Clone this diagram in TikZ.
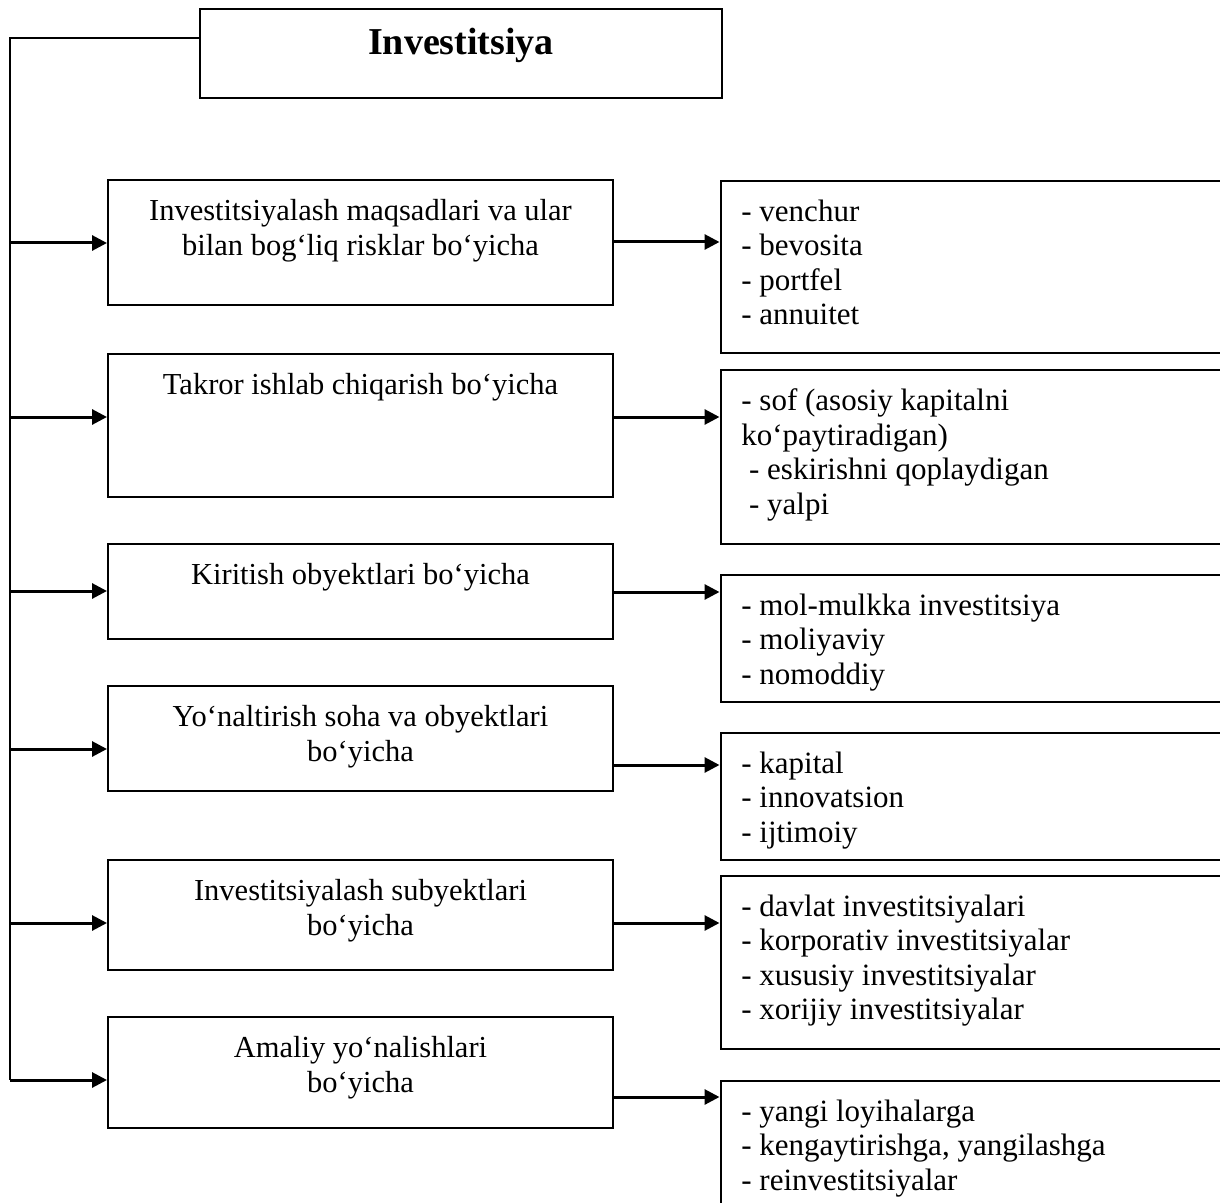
\documentclass[tikz,border=0pt]{standalone}
\usepackage{fontspec}
\setmainfont{Liberation Serif}
\usetikzlibrary{arrows.meta,positioning}

\begin{document}
\begin{tikzpicture}[x=0.5pt, y=-0.5pt,
  head/.style={draw, line width=1pt, minimum width=261pt, inner sep=0pt,
               font=\fontsize{19pt}{22pt}\selectfont\bfseries,
               text height=23pt, text depth=21.5pt},
  kind/.style={draw, line width=1pt, minimum width=252.5pt, inner sep=0pt},
  list/.style={draw, line width=1pt, minimum width=260pt, inner sep=0pt},
  ktext/.style={align=center, inner sep=0pt, font=\fontsize{15.25pt}{17.5pt}\selectfont},
  ltext/.style={align=left, inner sep=0pt, font=\fontsize{15.5pt}{17.25pt}\selectfont},
  arrow/.style={-{Triangle[length=7.5pt,width=7.5pt]}, line width=1.5pt}]
\useasboundingbox (0,0) rectangle (1220,1203);
\def\row#1#2#3#4#5#6#7#8#9{%
  \node[kind, minimum height={(#3-#2)*0.5pt}] (k#1) at (360.5,{(#2+#3)/2}) {};
  \node[ktext, below=9.75pt of k#1.north] (kt#1) {#8};
  \node[list, minimum height={(#6-#5)*0.5pt}] (l#1) at (980.5,{(#5+#6)/2}) {};
  \node[ltext, below right=9.75pt and 10.75pt of l#1.north west] (lt#1) {#9};
  \coordinate (b#1) at (10,#4);
  \coordinate (m#1) at (0,#7);
  \draw[arrow] (b#1) -- (b#1 -| k#1.west);
  \draw[arrow] (m#1 -| k#1.east) -- (m#1 -| l#1.west);}
\node[head] (top) at (461,53.5) {Investitsiya};
\row{1}{180}{305}{243}{181}{353}{242}{Investitsiyalash maqsadlari va ular\\bilan bog‘liq risklar bo‘yicha}{- venchur\\- bevosita\\- portfel\\- annuitet}
\row{2}{354}{497}{417}{370}{544}{417}{Takror ishlab chiqarish bo‘yicha}{- sof (asosiy kapitalni\\ko‘paytiradigan)\\\hspace*{.25em}- eskirishni qoplaydigan\\\hspace*{.25em}- yalpi}
\row{3}{544}{639}{591}{575}{702}{592}{Kiritish obyektlari bo‘yicha}{- mol-mulkka investitsiya\\- moliyaviy\\- nomoddiy}
\row{4}{686}{791}{749}{733}{860}{765}{Yo‘naltirish soha va obyektlari\\bo‘yicha}{- kapital\\- innovatsion\\- ijtimoiy}
\row{5}{860}{970}{923}{876}{1049}{923}{Investitsiyalash subyektlari\\bo‘yicha}{- davlat investitsiyalari\\- korporativ investitsiyalar\\- xususiy investitsiyalar\\- xorijiy investitsiyalar}
\row{6}{1017}{1128}{1080}{1081}{1260}{1097}{Amaliy yo‘nalishlari\\bo‘yicha}{- yangi loyihalarga\\- kengaytirishga, yangilashga\\- reinvestitsiyalar}
% trunk from the title box
\coordinate (tr) at (10,38);
\draw[line width=1pt] (top.west |- tr) -- (tr) -- (b6);
\end{tikzpicture}
\end{document}
